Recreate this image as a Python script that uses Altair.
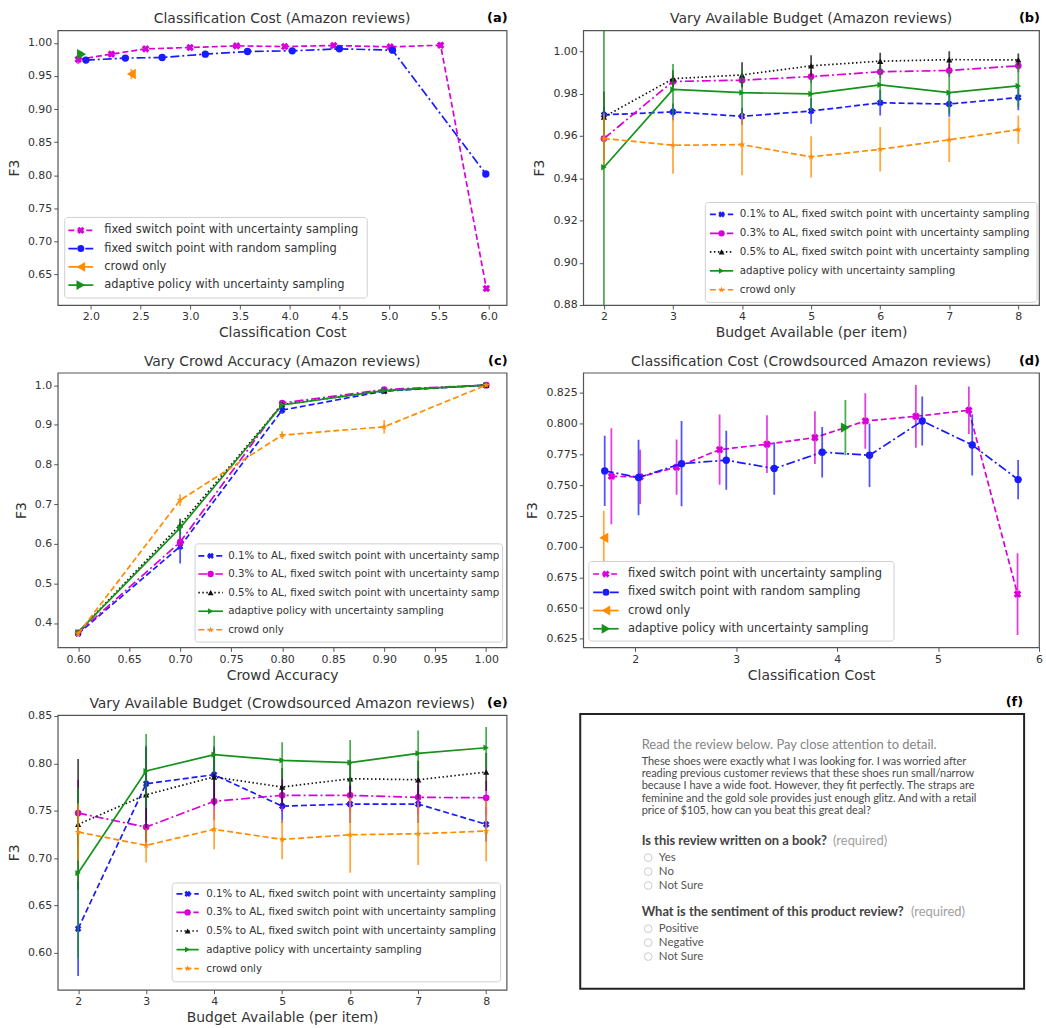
import altair as alt
import pandas as pd

FONT = "DejaVu Sans"
BLUE = "#1a1aff"
MAGENTA = "#d900d9"
BLACK = "#111111"
GREEN = "#14921a"
ORANGE = "#ff8c00"
STAR = "M0,-1L0.2245,-0.309L0.951,-0.309L0.363,0.118L0.588,0.809L0,0.382L-0.588,0.809L-0.363,0.118L-0.951,-0.309L-0.2245,-0.309Z"
DASHED = [6, 3]
DASHDOT = [9, 3, 2, 3]
DOTTED = [1.5, 2.5]

N_UNC = "fixed switch point with uncertainty sampling"
N_RND = "fixed switch point with random sampling"
N_CROWD = "crowd only"
N_ADAPT = "adaptive policy with uncertainty sampling"
N_AL1 = "0.1% to AL, fixed switch point with uncertainty sampling"
N_AL3 = "0.3% to AL, fixed switch point with uncertainty sampling"
N_AL5 = "0.5% to AL, fixed switch point with uncertainty sampling"
N_AL1c = "0.1% to AL, fixed switch point with uncertainty samp"
N_AL3c = "0.3% to AL, fixed switch point with uncertainty samp"
N_AL5c = "0.5% to AL, fixed switch point with uncertainty samp"

# ---------------- (a) Classification Cost (Amazon reviews)
a_unc_x = [1.873, 2.207, 2.551, 2.998, 3.465, 3.949, 4.442, 5.010, 5.517, 5.977]
a_unc_y = [0.975, 0.983, 0.991, 0.993, 0.9955, 0.9945, 0.996, 0.994, 0.9965, 0.629]
a_unc_e = [0.007, 0.004, 0.003, 0.002, 0.002, 0.002, 0.002, 0.002, 0.004, 0.003]
a_rnd_x = [1.950, 2.347, 2.717, 3.151, 3.575, 4.025, 4.499, 5.033, 5.971]
a_rnd_y = [0.974, 0.977, 0.978, 0.983, 0.987, 0.988, 0.991, 0.989, 0.802]
a_rnd_e = [0.003, 0.003, 0.004, 0.003, 0.003, 0.002, 0.002, 0.002, 0.003]
a_crowd_x = [2.407]
a_crowd_y = [0.953]
a_crowd_e = [0.008]
a_adapt_x = [1.907]
a_adapt_y = [0.983]
a_adapt_e = [0.004]

# ---------------- (b) Vary Available Budget (Amazon reviews)
budget = [2, 3, 4, 5, 6, 7, 8]
b_al1_y = [0.970, 0.9714, 0.9693, 0.9718, 0.9757, 0.9751, 0.9782]
b_al1_e = [0.004, 0.004, 0.004, 0.006, 0.006, 0.006, 0.006]
b_al3_y = [0.9588, 0.9858, 0.9864, 0.9881, 0.9904, 0.9910, 0.9932]
b_al3_e = [0.010, 0.003, 0.003, 0.003, 0.003, 0.003, 0.003]
b_al5_y = [0.969, 0.9871, 0.9889, 0.9932, 0.9954, 0.9961, 0.9960]
b_al5_e = [0.012, 0.004, 0.006, 0.005, 0.004, 0.004, 0.003]
b_adapt_y = [0.9452, 0.9820, 0.9805, 0.9799, 0.9842, 0.9805, 0.9837]
b_adapt_e = [0.080, 0.012, 0.011, 0.008, 0.009, 0.010, 0.010]
b_crowd_y = [0.9588, 0.9556, 0.9559, 0.9501, 0.9537, 0.9582, 0.9630]
b_crowd_e = [0.012, 0.0135, 0.0145, 0.0098, 0.0105, 0.0105, 0.0067]

# ---------------- (c) Vary Crowd Accuracy (Amazon reviews)
accuracy = [0.6, 0.7, 0.8, 0.9, 1.0]
c_al1_y = [0.373, 0.593, 0.937, 0.985, 1.0]
c_al1_e = [0.005, 0.043, 0.010, 0.003, 0.0]
c_al3_y = [0.375, 0.604, 0.955, 0.989, 1.0]
c_al3_e = [0.004, 0.015, 0.005, 0.003, 0.0]
c_al5_y = [0.377, 0.648, 0.951, 0.986, 1.0]
c_al5_e = [0.003, 0.015, 0.005, 0.003, 0.0]
c_adapt_y = [0.377, 0.640, 0.950, 0.986, 1.0]
c_adapt_e = [0.003, 0.020, 0.005, 0.003, 0.0]
c_crowd_y = [0.373, 0.710, 0.874, 0.895, 1.0]
c_crowd_e = [0.005, 0.015, 0.010, 0.017, 0.0]

# ---------------- (d) Classification Cost (Crowdsourced Amazon reviews)
d_unc_x = [1.764, 2.049, 2.410, 2.836, 3.305, 3.780, 4.279, 4.780, 5.305, 5.787]
d_unc_y = [0.7572, 0.7567, 0.7646, 0.7789, 0.7833, 0.7887, 0.8022, 0.8060, 0.8109, 0.6613]
d_unc_e = [0.039, 0.022, 0.0225, 0.0285, 0.0235, 0.0215, 0.0225, 0.0255, 0.0193, 0.0333]
d_rnd_x = [1.698, 2.033, 2.459, 2.902, 3.377, 3.852, 4.321, 4.843, 5.338, 5.793]
d_rnd_y = [0.7616, 0.7562, 0.7675, 0.7703, 0.7635, 0.7768, 0.7743, 0.8022, 0.7827, 0.7545]
d_rnd_e = [0.0285, 0.0308, 0.0346, 0.0240, 0.0213, 0.0206, 0.0258, 0.0200, 0.0249, 0.0160]
d_crowd_x = [1.689]
d_crowd_y = [0.7071]
d_crowd_e = [0.022]
d_adapt_x = [4.082]
d_adapt_y = [0.7968]
d_adapt_e = [0.0225]

# ---------------- (e) Vary Available Budget (Crowdsourced Amazon reviews)
e_al1_y = [0.6254, 0.7785, 0.7880, 0.7549, 0.7570, 0.7570, 0.7356]
e_al1_e = [0.050, 0.040, 0.030, 0.018, 0.020, 0.020, 0.018]
e_al3_y = [0.7475, 0.7327, 0.7599, 0.7662, 0.7662, 0.7641, 0.7637]
e_al3_e = [0.035, 0.020, 0.020, 0.017, 0.017, 0.018, 0.018]
e_al5_y = [0.7356, 0.7669, 0.7856, 0.7750, 0.7838, 0.7827, 0.7908]
e_al5_e = [0.069, 0.050, 0.030, 0.020, 0.020, 0.020, 0.020]
e_adapt_y = [0.6842, 0.7919, 0.8092, 0.8032, 0.8007, 0.8106, 0.8165]
e_adapt_e = [0.090, 0.039, 0.020, 0.019, 0.024, 0.024, 0.022]
e_crowd_y = [0.7275, 0.7134, 0.7303, 0.7197, 0.7246, 0.7257, 0.7285]
e_crowd_e = [0.030, 0.018, 0.021, 0.021, 0.040, 0.033, 0.032]

# ---------------- (f) survey text
f_head = "Read the review below. Pay close attention to detail."
f_body = [
    "These shoes were exactly what I was looking for. I was worried after",
    "reading previous customer reviews that these shoes run small/narrow",
    "because I have a wide foot. However, they fit perfectly. The straps are",
    "feminine and the gold sole provides just enough glitz. And with a retail",
    "price of $105, how can you beat this great deal?",
]
f_q1 = "Is this review written on a book?"
f_q2 = "What is the sentiment of this product review?"
f_req = "(required)"
f_opts1 = ["Yes", "No", "Not Sure"]
f_opts2 = ["Positive", "Negative", "Not Sure"]

# ---------------- styles
ST_UNC = dict(color=MAGENTA, dash=DASHED, shape="cross", angle=45, size=60)
ST_RND = dict(color=BLUE, dash=DASHDOT, shape="circle", size=55)
ST_CROWD_PT = dict(color=ORANGE, dash=None, shape="triangle-left", size=110)
ST_ADAPT_PT = dict(color=GREEN, dash=None, shape="triangle-right", size=110)
ST_AL1 = dict(color=BLUE, dash=DASHED, shape="cross", angle=45, size=45)
ST_AL3 = dict(color=MAGENTA, dash=DASHDOT, shape="circle", size=45)
ST_AL5 = dict(color=BLACK, dash=DOTTED, shape="triangle-up", size=40)
ST_ADAPT = dict(color=GREEN, dash=None, shape="triangle-right", size=40)
ST_CROWD = dict(color=ORANGE, dash=DASHED, shape=STAR, size=50)

W1, W2, H = 451, 458, 276


def sc(field):
    return alt.X(f"{field}:Q", scale=None)


def scy(field):
    return alt.Y(f"{field}:Q", scale=None)


def point_kw(st, scale=1.0):
    kw = dict(filled=True, opacity=1, shape=st["shape"], size=st["size"] * scale, color=st["color"])
    if st.get("angle"):
        kw["angle"] = st["angle"]
    return kw


def make_panel(title, tag, xtitle, xdom, xticks, xfmt, ydom, yticks, yfmt, series, lg, width):
    def X(f):
        return alt.X(f"{f}:Q", scale=alt.Scale(domain=xdom, nice=False, zero=False),
                     axis=alt.Axis(values=xticks, format=xfmt, title=xtitle))

    def Y(f):
        return alt.Y(f"{f}:Q", scale=alt.Scale(domain=ydom, nice=False, zero=False),
                     axis=alt.Axis(values=yticks, format=yfmt, title="F3", titlePadding=6))

    layers = []
    for name, xs, ys, es, st in series:
        df = pd.DataFrame({"x": xs, "y": ys,
                           "lo": [v - e for v, e in zip(ys, es)],
                           "hi": [v + e for v, e in zip(ys, es)]})
        layers.append(alt.Chart(df).mark_rule(color=st["color"], strokeWidth=1.8, opacity=0.75, clip=True)
                      .encode(x=X("x"), y=Y("lo"), y2=alt.Y2("hi:Q")))
        if len(xs) > 1:
            lk = dict(color=st["color"], strokeWidth=1.7, clip=True)
            if st["dash"]:
                lk["strokeDash"] = st["dash"]
            layers.append(alt.Chart(df).mark_line(**lk).encode(x=X("x"), y=Y("y")))
        layers.append(alt.Chart(df).mark_point(clip=True, **point_kw(st)).encode(x=X("x"), y=Y("y")))

    # legend
    x0, y0, x1, y1 = lg["box"]
    box = pd.DataFrame({"x0": [x0], "y0": [y0], "x1": [x1], "y1": [y1]})
    layers.append(alt.Chart(box).mark_rect(fill="white", fillOpacity=0.85, stroke="#d0d0d0",
                                           strokeWidth=1, cornerRadius=3)
                  .encode(x=sc("x0"), x2="x1:Q", y=scy("y0"), y2="y1:Q"))
    la, lb = lg["line"]
    for (name, xs, ys, es, st), ry in zip(series, lg["rows"]):
        row = pd.DataFrame({"a": [la], "b": [lb], "m": [(la + lb) / 2], "t": [lg["text"]],
                            "ry": [ry], "label": [name]})
        rk = dict(color=st["color"], strokeWidth=1.7)
        if st["dash"]:
            rk["strokeDash"] = st["dash"]
        layers.append(alt.Chart(row).mark_rule(**rk).encode(x=sc("a"), x2="b:Q", y=scy("ry")))
        layers.append(alt.Chart(row).mark_point(**point_kw(st, 0.9)).encode(x=sc("m"), y=scy("ry")))
        layers.append(alt.Chart(row).mark_text(align="left", baseline="middle", font=FONT,
                                               fontSize=lg["fs"], color="#333333")
                      .encode(x=sc("t"), y=scy("ry"), text="label:N"))

    # title and panel tag
    tdf = pd.DataFrame({"tx": [width / 2], "ty": [-11], "t": [title]})
    layers.append(alt.Chart(tdf).mark_text(align="center", baseline="middle", font=FONT, fontSize=14,
                                           color="#333333")
                  .encode(x=sc("tx"), y=scy("ty"), text="t:N"))
    tagdf = pd.DataFrame({"tx": [width + 1], "ty": [-12], "t": [tag]})
    layers.append(alt.Chart(tagdf).mark_text(align="right", baseline="middle", font=FONT, fontSize=13,
                                             fontWeight="bold", color="black")
                  .encode(x=sc("tx"), y=scy("ty"), text="t:N"))
    return alt.layer(*layers).properties(width=width, height=H)


panel_a = make_panel(
    "Classification Cost (Amazon reviews)", "(a)", "Classification Cost",
    [1.667, 6.18], [2.0, 2.5, 3.0, 3.5, 4.0, 4.5, 5.0, 5.5, 6.0], ".1f",
    [0.604, 1.019], [0.65, 0.70, 0.75, 0.80, 0.85, 0.90, 0.95, 1.00], ".2f",
    [(N_UNC, a_unc_x, a_unc_y, a_unc_e, ST_UNC),
     (N_RND, a_rnd_x, a_rnd_y, a_rnd_e, ST_RND),
     (N_CROWD, a_crowd_x, a_crowd_y, a_crowd_e, ST_CROWD_PT),
     (N_ADAPT, a_adapt_x, a_adapt_y, a_adapt_e, ST_ADAPT_PT)],
    dict(box=(7, 188, 311, 269), rows=[201, 219.3, 237.7, 256], line=(10.7, 35.7), text=46.7, fs=11.5),
    W1)

panel_b = make_panel(
    "Vary Available Budget (Amazon reviews)", "(b)", "Budget Available (per item)",
    [1.7, 8.3], budget, "d",
    [0.88, 1.01], [0.88, 0.90, 0.92, 0.94, 0.96, 0.98, 1.00], ".2f",
    [(N_AL1, budget, b_al1_y, b_al1_e, ST_AL1),
     (N_AL3, budget, b_al3_y, b_al3_e, ST_AL3),
     (N_AL5, budget, b_al5_y, b_al5_e, ST_AL5),
     (N_ADAPT, budget, b_adapt_y, b_adapt_e, ST_ADAPT),
     (N_CROWD, budget, b_crowd_y, b_crowd_e, ST_CROWD)],
    dict(box=(122.7, 173, 456, 273.3), rows=[185, 204, 222.7, 241.7, 260.7], line=(127.3, 150.7), text=157.3, fs=10.3),
    W2)

panel_c = make_panel(
    "Vary Crowd Accuracy (Amazon reviews)", "(c)", "Crowd Accuracy",
    [0.58, 1.02], [0.60, 0.65, 0.70, 0.75, 0.80, 0.85, 0.90, 0.95, 1.00], ".2f",
    [0.3385, 1.0315], [0.4, 0.5, 0.6, 0.7, 0.8, 0.9, 1.0], ".1f",
    [(N_AL1c, accuracy, c_al1_y, c_al1_e, ST_AL1),
     (N_AL3c, accuracy, c_al3_y, c_al3_e, ST_AL3),
     (N_AL5c, accuracy, c_al5_y, c_al5_e, ST_AL5),
     (N_ADAPT, accuracy, c_adapt_y, c_adapt_e, ST_ADAPT),
     (N_CROWD, accuracy, c_crowd_y, c_crowd_e, ST_CROWD)],
    dict(box=(138, 172, 447, 270.7), rows=[184, 202.3, 221, 239.7, 258.3], line=(141.3, 166), text=171.3, fs=10.3),
    W1)

panel_d = make_panel(
    "Classification Cost (Crowdsourced Amazon reviews)", "(d)", "Classification Cost",
    [1.485, 6.0], [2, 3, 4, 5, 6], "d",
    [0.618, 0.8415], [0.625, 0.650, 0.675, 0.700, 0.725, 0.750, 0.775, 0.800, 0.825], ".3f",
    [(N_UNC, d_unc_x, d_unc_y, d_unc_e, ST_UNC),
     (N_RND, d_rnd_x, d_rnd_y, d_rnd_e, ST_RND),
     (N_CROWD, d_crowd_x, d_crowd_y, d_crowd_e, ST_CROWD_PT),
     (N_ADAPT, d_adapt_x, d_adapt_y, d_adapt_e, ST_ADAPT_PT)],
    dict(box=(5.7, 189.7, 312.3, 269.7), rows=[202.3, 220.7, 239, 257.3], line=(10, 35.7), text=45, fs=11.5),
    W2)

panel_e = make_panel(
    "Vary Available Budget (Crowdsourced Amazon reviews)", "(e)", "Budget Available (per item)",
    [1.7, 8.3], budget, "d",
    [0.561, 0.851], [0.60, 0.65, 0.70, 0.75, 0.80, 0.85], ".2f",
    [(N_AL1, budget, e_al1_y, e_al1_e, ST_AL1),
     (N_AL3, budget, e_al3_y, e_al3_e, ST_AL3),
     (N_AL5, budget, e_al5_y, e_al5_e, ST_AL5),
     (N_ADAPT, budget, e_adapt_y, e_adapt_e, ST_ADAPT),
     (N_CROWD, budget, e_crowd_y, e_crowd_e, ST_CROWD)],
    dict(box=(115, 168.7, 445, 268), rows=[179.7, 198.3, 217, 235.7, 254.7], line=(119.3, 141.7), text=149.3, fs=10.3),
    W1)


# ---------------- (f) panel
def ftext(rows, **kw):
    df = pd.DataFrame(rows, columns=["px", "py", "t"])
    return alt.Chart(df).mark_text(align="left", baseline="middle", font="Lato", **kw).encode(
        x=sc("px"), y=scy("py"), text="t:N")


body_y = [47.3, 59.7, 71.7, 84, 96.3]
opt1_y = [143.3, 157.3, 171.3]
opt2_y = [214.7, 228.7, 242.7]
fbox = pd.DataFrame({"x0": [-3], "y0": [-1], "x1": [443], "y1": [275]})
circles = pd.DataFrame({"px": [65.3] * 6, "py": opt1_y + opt2_y})
f_layers = [
    alt.Chart(fbox).mark_rect(fill="white", stroke="#222222", strokeWidth=2)
    .encode(x=sc("x0"), x2="x1:Q", y=scy("y0"), y2="y1:Q"),
    ftext([(58.7, 30, f_head)], fontSize=13, color="#858585"),
    ftext([(58.7, y, t) for y, t in zip(body_y, f_body)], fontSize=11, color="#4a4a4a"),
    ftext([(58.7, 127, f_q1), (58.7, 198.3, f_q2)], fontSize=13, fontWeight="bold", color="#444444"),
    ftext([(251, 127, f_req), (329.3, 198.3, f_req)], fontSize=13, color="#a0a0a0"),
    ftext([(76, y, t) for y, t in zip(opt1_y + opt2_y, f_opts1 + f_opts2)], fontSize=11.5, color="#555555"),
    alt.Chart(circles).mark_point(shape="circle", size=60, filled=False, stroke="#b5b5b5", strokeWidth=1)
    .encode(x=sc("px"), y=scy("py")),
    alt.Chart(pd.DataFrame({"tx": [442], "ty": [-12.7], "t": ["(f)"]}))
    .mark_text(align="right", baseline="middle", font=FONT, fontSize=13, fontWeight="bold", color="black")
    .encode(x=sc("tx"), y=scy("ty"), text="t:N"),
]
panel_f = alt.layer(*f_layers).properties(width=446, height=H, view=alt.ViewBackground(strokeOpacity=0))

chart = (
    alt.concat(panel_a, panel_b, panel_c, panel_d, panel_e, panel_f, columns=2,
               spacing={"row": 68, "column": 77}, bounds="flush")
    .properties(padding={"left": 6, "top": 9, "right": 2, "bottom": 2}, background="white")
    .configure_view(stroke="#555555", strokeWidth=1.2)
    .configure_axis(labelFont=FONT, labelFontSize=11, labelColor="#333333", titleFont=FONT,
                    titleFontSize=14, titleColor="#333333", titleFontWeight="normal",
                    tickColor="#555555", tickSize=4, domain=False, grid=False, labelPadding=2,
                    titlePadding=4, labelFlush=False)
)

chart.save("out.html", embed_options={"renderer": "svg", "actions": False})
